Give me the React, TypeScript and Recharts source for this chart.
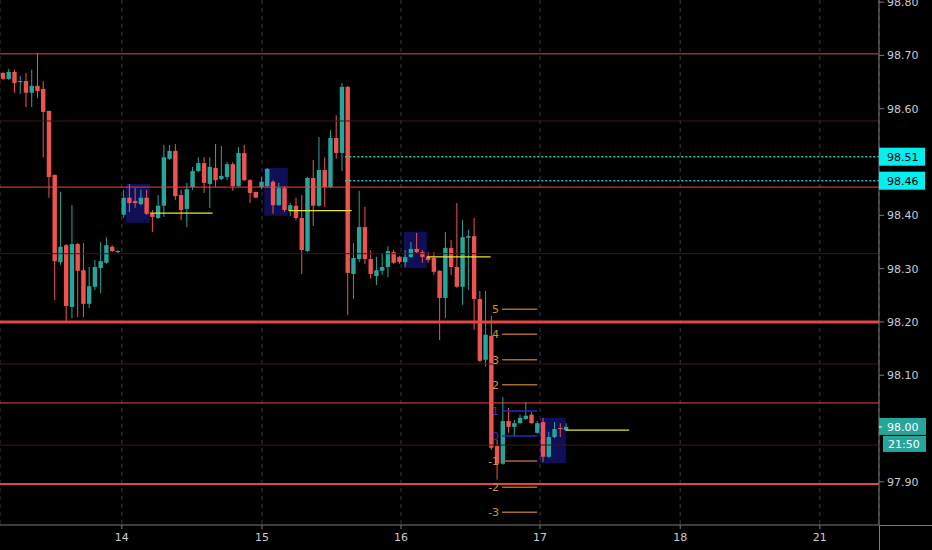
import { Bar, CartesianGrid, ComposedChart, ReferenceArea, ReferenceLine, XAxis, YAxis } from 'recharts';

// hourly candles
const opens = [
  98.667, 98.656, 98.669, 98.650, 98.652, 98.630, 98.643, 98.637, 98.596, 98.476,
  98.312, 98.344, 98.228, 98.346, 98.297, 98.234, 98.266, 98.301, 98.311, 98.341,
  98.331, 98.401, 98.433, 98.427, 98.421, 98.433, 98.403, 98.395, 98.418, 98.506,
  98.521, 98.438, 98.412, 98.453, 98.483, 98.498, 98.459, 98.489, 98.468, 98.472,
  98.496, 98.455, 98.517, 98.466, 98.444, 98.453, 98.455, 98.463, 98.419, 98.451,
  98.410, 98.418, 98.395, 98.333, 98.470, 98.418, 98.485, 98.453, 98.545, 98.517,
  98.641, 98.290, 98.318, 98.378, 98.318, 98.286, 98.296, 98.303, 98.331, 98.322,
  98.312, 98.322, 98.337, 98.331, 98.322, 98.320, 98.296, 98.245, 98.339, 98.303,
  98.266, 98.358, 98.361, 98.243, 98.129, 98.174, 97.967, 97.934, 98.014, 98.003,
  98.010, 98.018, 98.026, 97.992, 98.012, 97.947, 97.984, 98.001, 97.997,
];
const highs = [
  98.669, 98.675, 98.673, 98.661, 98.667, 98.673, 98.705, 98.652, 98.596, 98.476,
  98.444, 98.346, 98.419, 98.348, 98.348, 98.303, 98.316, 98.350, 98.359, 98.344,
  98.335, 98.448, 98.459, 98.451, 98.448, 98.448, 98.410, 98.438, 98.532, 98.532,
  98.534, 98.448, 98.461, 98.491, 98.509, 98.509, 98.509, 98.534, 98.530, 98.500,
  98.500, 98.528, 98.532, 98.468, 98.444, 98.472, 98.489, 98.466, 98.461, 98.455,
  98.423, 98.433, 98.438, 98.472, 98.504, 98.547, 98.509, 98.560, 98.588, 98.648,
  98.643, 98.348, 98.446, 98.416, 98.335, 98.322, 98.328, 98.342, 98.335, 98.324,
  98.335, 98.350, 98.367, 98.335, 98.331, 98.331, 98.297, 98.369, 98.354, 98.423,
  98.391, 98.373, 98.395, 98.258, 98.258, 98.211, 97.979, 98.059, 98.039, 98.016,
  98.026, 98.050, 98.031, 98.014, 98.020, 97.994, 98.012, 98.010, 98.010,
];
const lows = [
  98.654, 98.654, 98.630, 98.628, 98.603, 98.603, 98.620, 98.509, 98.433, 98.241,
  98.307, 98.200, 98.207, 98.209, 98.209, 98.226, 98.260, 98.254, 98.309, 98.331,
  98.329, 98.395, 98.406, 98.414, 98.419, 98.401, 98.369, 98.393, 98.397, 98.504,
  98.429, 98.391, 98.378, 98.448, 98.481, 98.442, 98.414, 98.453, 98.466, 98.466,
  98.446, 98.453, 98.464, 98.423, 98.433, 98.449, 98.453, 98.403, 98.418, 98.406,
  98.399, 98.391, 98.290, 98.331, 98.380, 98.416, 98.416, 98.451, 98.506, 98.483,
  98.213, 98.243, 98.312, 98.309, 98.281, 98.269, 98.288, 98.284, 98.309, 98.309,
  98.303, 98.320, 98.329, 98.311, 98.311, 98.288, 98.166, 98.207, 98.288, 98.264,
  98.232, 98.260, 98.185, 98.125, 98.116, 97.960, 97.904, 97.932, 97.992, 97.984,
  98.009, 98.016, 98.009, 97.990, 97.937, 97.945, 97.982, 97.984, 97.995,
];
const closes = [
  98.656, 98.669, 98.648, 98.652, 98.630, 98.643, 98.633, 98.594, 98.472, 98.314,
  98.341, 98.230, 98.346, 98.296, 98.234, 98.267, 98.303, 98.314, 98.344, 98.333,
  98.333, 98.433, 98.423, 98.423, 98.433, 98.403, 98.397, 98.418, 98.509, 98.521,
  98.436, 98.410, 98.449, 98.483, 98.498, 98.461, 98.491, 98.466, 98.474, 98.496,
  98.455, 98.517, 98.466, 98.442, 98.433, 98.463, 98.487, 98.419, 98.451, 98.410,
  98.419, 98.395, 98.335, 98.470, 98.418, 98.485, 98.453, 98.545, 98.517, 98.641,
  98.292, 98.320, 98.378, 98.318, 98.290, 98.297, 98.303, 98.333, 98.311, 98.312,
  98.322, 98.337, 98.331, 98.322, 98.316, 98.294, 98.245, 98.339, 98.303, 98.266,
  98.359, 98.361, 98.243, 98.127, 98.176, 97.964, 97.934, 98.014, 98.003, 98.010,
  98.020, 98.024, 98.010, 98.010, 97.947, 97.984, 97.999, 97.999, 98.003,
];

// x axis: candle slots, day marks sit between them
const slotCount = 153;
const dayTicks = [20.7, 45.1, 69.3, 93.5, 117.9, 142.2];
const dayLabels = ['14', '15', '16', '17', '18', '21'];

const priceTicks = [97.9, 98.1, 98.2, 98.3, 98.4, 98.6, 98.7, 98.8];
const tagValues = [98.51, 98.465, 98.003];
const tagTexts = ['98.51', '98.46', '98.00'];

// drawn levels
const redLevels = [98.703, 98.453, 98.048];
const mainLevel = 98.2;
const lowLevel = 97.896;
const faintLevels = [98.577, 98.328, 98.121, 97.969];
const cyanLevels = [98.51, 98.465];
const cyanStart = 59.6;

const yellowStarts = [25.6, 49.7, 73.8, 98.0];
const yellowEnds = [36.5, 60.7, 84.9, 109.0];
const yellowPrices = [98.404, 98.409, 98.322, 97.997];

const boxStarts = [21.4, 45.5, 69.8, 93.5];
const boxEnds = [25.6, 49.6, 73.8, 98.0];
const boxTops = [98.459, 98.489, 98.369, 98.020];
const boxBottoms = [98.386, 98.399, 98.301, 97.935];

const fibLabels = ['5', '4', '3', '2', '1', '0', '-1', '-2', '-3'];
const fibPrices = [98.224, 98.177, 98.129, 98.082, 98.033, 97.986, 97.939, 97.890, 97.843];
const fibStart = 86.9;
const fibEnd = 93.0;

const UP = '#26a69a';
const DOWN = '#ef5350';
const RED_LINE = '#e5473f';
const AXIS = '#7b7b7b';
const TEXT = '#c9cbd1';
const FONT = 'DejaVu Sans, sans-serif';

const rows = Array.from({ length: slotCount }, (_, k) =>
  k < opens.length
    ? { k, range: [lows[k], highs[k]], open: opens[k], close: closes[k] }
    : { k });

const Candle = (props: any) => {
  const { x, y, width, height, payload } = props;
  if (!payload || payload.open == null) return <g />;
  const [low, high] = payload.range;
  const top = Math.min(y, y + height);
  const span = Math.abs(height);
  const perUnit = high > low ? span / (high - low) : 0;
  const bodyTop = top + (high - Math.max(payload.open, payload.close)) * perUnit;
  const bodyBottom = top + (high - Math.min(payload.open, payload.close)) * perUnit;
  const color = payload.close >= payload.open ? UP : DOWN;
  const cx = x + width / 2;
  return (
    <g>
      <line x1={cx} x2={cx} y1={top} y2={top + span} stroke={color} strokeWidth={1} />
      <rect x={cx - 2.2} y={bodyTop} width={4.4} height={Math.max(1, bodyBottom - bodyTop)} fill={color} />
    </g>
  );
};

const PriceTick = (props: any) => {
  const { x, y, payload } = props;
  const i = tagValues.indexOf(payload.value);
  if (i === 0 || i === 1) {
    return (
      <g>
        <rect x={x - 8} y={y - 9} width={46} height={18} fill="#00f0f0" />
        <text x={x} y={y} dy={4} fill="#000" fontSize={11} fontFamily={FONT}>{tagTexts[i]}</text>
      </g>
    );
  }
  if (i === 2) {
    return (
      <g>
        <rect x={x - 8} y={y - 9} width={47} height={17} fill={UP} />
        <line x1={x - 8} x2={x - 5} y1={y} y2={y} stroke="#fff" />
        <text x={x} y={y} dy={4} fill="#fff" fontSize={11} fontFamily={FONT}>{tagTexts[i]}</text>
        <rect x={x - 4} y={y + 9} width={43} height={16} fill={UP} />
        <text x={x + 1} y={y + 17} dy={4} fill="#fff" fontSize={11} fontFamily={FONT}>21:50</text>
      </g>
    );
  }
  return (
    <text x={x} y={y} dy={4} fill={TEXT} fontSize={11} fontFamily={FONT}>{payload.value.toFixed(2)}</text>
  );
};

export default function App() {
  return (
    <div style={{ position: 'absolute', left: 0, top: 0, width: 932, height: 550, background: '#000', overflow: 'hidden' }}>
      <ComposedChart width={932} height={550} data={rows} margin={{ top: 0, right: 0, bottom: 0, left: 0 }} barSize={4}>
        <CartesianGrid xAxisId="num" horizontal={false} stroke="#3a3a3a" strokeDasharray="4 4" />
        <XAxis
          xAxisId="num"
          dataKey="k"
          type="number"
          domain={[-0.5, slotCount - 0.5]}
          allowDataOverflow
          ticks={dayTicks}
          interval={0}
          tickFormatter={(v: number) => dayLabels[dayTicks.indexOf(v)] ?? ''}
          height={25}
          tickSize={4}
          tickMargin={4}
          stroke={AXIS}
          tick={{ fill: TEXT, fontSize: 11, fontFamily: FONT }}
        />
        <XAxis xAxisId="cat" dataKey="k" hide height={0} />
        <YAxis
          orientation="right"
          width={53}
          domain={[97.819, 98.804]}
          allowDataOverflow
          ticks={[...priceTicks, ...tagValues]}
          interval={0}
          tickSize={5}
          tickMargin={3}
          stroke={AXIS}
          tick={<PriceTick />}
        />

        {faintLevels.map((p) => (
          <ReferenceLine key={'f' + p} xAxisId="num" y={p} stroke="#3b1818" strokeWidth={1} />
        ))}

        <Bar xAxisId="cat" dataKey="range" shape={Candle} isAnimationActive={false} />

        {boxStarts.map((s, i) => (
          <ReferenceArea
            key={'b' + i}
            xAxisId="num"
            x1={s}
            x2={boxEnds[i]}
            y1={boxBottoms[i]}
            y2={boxTops[i]}
            fill="#2323d0"
            fillOpacity={0.42}
            stroke="none"
          />
        ))}

        {redLevels.map((p) => (
          <ReferenceLine key={'r' + p} xAxisId="num" y={p} stroke={RED_LINE} strokeWidth={1} />
        ))}
        <ReferenceLine xAxisId="num" y={mainLevel} stroke={RED_LINE} strokeWidth={3} />
        <ReferenceLine xAxisId="num" y={lowLevel} stroke={RED_LINE} strokeWidth={2} />

        {cyanLevels.map((p) => (
          <ReferenceLine
            key={'c' + p}
            xAxisId="num"
            segment={[{ x: cyanStart, y: p }, { x: slotCount - 0.5, y: p }]}
            stroke="#2bc4c4"
            strokeWidth={1.5}
            strokeDasharray="2 2"
          />
        ))}

        {yellowStarts.map((s, i) => (
          <ReferenceLine
            key={'y' + i}
            xAxisId="num"
            segment={[{ x: s, y: yellowPrices[i] }, { x: yellowEnds[i], y: yellowPrices[i] }]}
            stroke="#e6e43a"
            strokeWidth={1.3}
          />
        ))}

        {fibPrices.map((p, i) => {
          const blue = fibLabels[i] === '0' || fibLabels[i] === '1';
          return (
            <ReferenceLine
              key={'fib' + i}
              xAxisId="num"
              segment={[{ x: fibStart, y: p }, { x: fibEnd, y: p }]}
              stroke={blue ? '#2a2ab4' : '#a86a2a'}
              strokeWidth={1.5}
              label={{ value: fibLabels[i], position: 'left', offset: 3, fill: blue ? '#3434c8' : '#d8902c', fontSize: 11, fontFamily: FONT }}
            />
          );
        })}
      </ComposedChart>
      <div style={{ position: 'absolute', left: 879, top: 525, width: 1, height: 25, background: AXIS }} />
      <div style={{ position: 'absolute', left: 879, top: 525, width: 53, height: 1, background: AXIS }} />
    </div>
  );
}
